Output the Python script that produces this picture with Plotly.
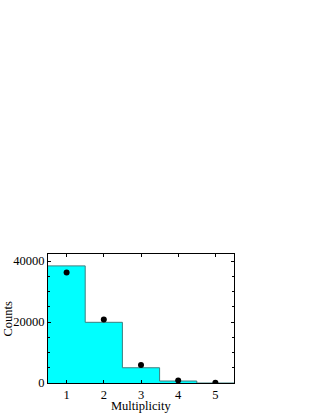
import plotly.graph_objects as go

multiplicity = [1, 2, 3, 4, 5]
hist_counts = [38400, 19900, 5000, 650, 0]
point_counts = [36200, 20850, 5900, 850, 100]
x_title = "Multiplicity"
y_title = "Counts"

edges = [m - 0.5 for m in multiplicity] + [multiplicity[-1] + 0.5]
step_y = hist_counts + [hist_counts[-1]]

fig = go.Figure()
fig.add_trace(go.Scatter(
    x=edges, y=step_y, mode="lines", line_shape="hv",
    fill="tozeroy", fillcolor="#00FFFF",
    line=dict(color="#3d7f7f", width=1), hoverinfo="skip", showlegend=False))
fig.add_trace(go.Scatter(
    x=multiplicity, y=point_counts, mode="markers",
    marker=dict(color="black", size=6), showlegend=False))

font = dict(family="Liberation Serif, Times New Roman, serif", color="black", size=12.5)
fig.update_layout(
    width=323, height=418,
    margin=dict(l=48, r=89, t=254, b=35),
    paper_bgcolor="white", plot_bgcolor="white",
    font=font,
    annotations=[
        dict(text=x_title, xref="paper", yref="paper", x=0.5, y=0,
             xanchor="center", yanchor="middle", yshift=-23, showarrow=False,
             font=dict(size=12.5)),
        dict(text=y_title, xref="paper", yref="paper", x=-41 / 186, y=0.5,
             xanchor="center", yanchor="middle", textangle=-90, showarrow=False,
             font=dict(size=12.5)),
    ],
)
fig.update_xaxes(
    range=[0.5, 5.5], tickvals=multiplicity, ticktext=[str(m) for m in multiplicity],
    ticks="inside", ticklen=3, tickcolor="black",
    showline=True, linecolor="black", linewidth=1, mirror="allticks",
    showgrid=False, zeroline=False, automargin=False,
    tickfont=dict(size=12.5),
)
fig.update_yaxes(
    range=[0, 42300], tickvals=[0, 20000, 40000], ticktext=["0", "20000", "40000"],
    ticks="inside", ticklen=3, tickcolor="black",
    minor=dict(dtick=5000, ticks="inside", ticklen=2, tickcolor="black"),
    showline=True, linecolor="black", linewidth=1, mirror="allticks",
    showgrid=False, zeroline=False, automargin=False,
    tickfont=dict(size=12.5),
)
fig.write_html("out.html", config={"displayModeBar": False},
               post_script="document.body.style.margin='0';")
